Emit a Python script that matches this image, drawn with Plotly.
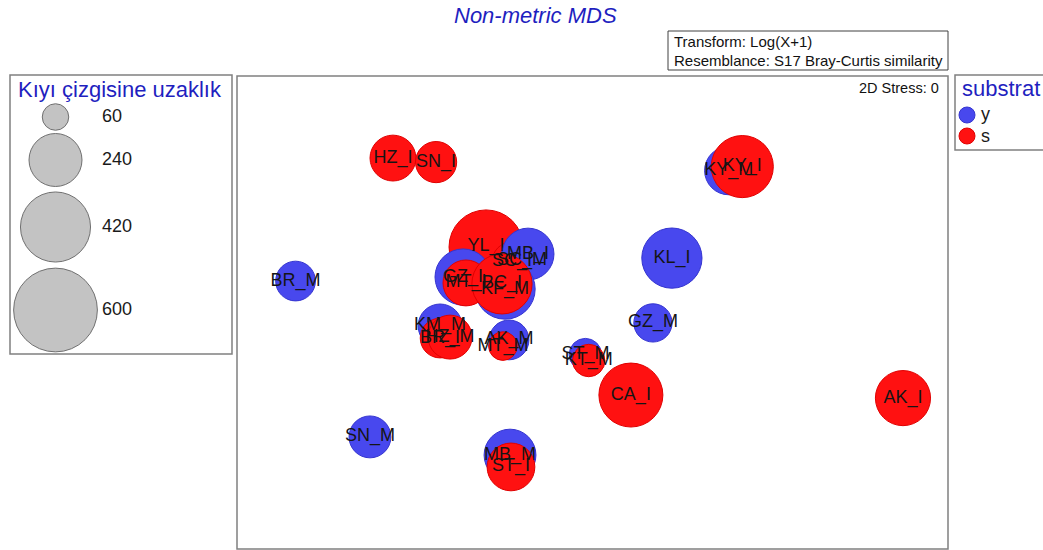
import numpy as np
import plotly.graph_objects as go

# ---- MDS ordination of the sampling stations ----
sites = ["HZ_I", "SN_I", "KY_M", "KY_I", "BR_M", "YL_I", "SC_I", "SC_M", "GZ_I",
         "MB_I", "KF_M", "MT_I", "BC_I", "KL_I", "GZ_M", "KM_M", "BR_I", "HZ_M",
         "AK_M", "MT_M", "ST_M", "KT_M", "CA_I", "AK_I", "SN_M", "MB_M", "ST_I"]
substrat = ["s", "s", "y", "s", "y", "s", "s", "y", "y",
            "y", "y", "s", "s", "y", "y", "y", "s", "s",
            "y", "s", "y", "s", "s", "s", "y", "y", "s"]
mds1 = [-0.842, -0.660, 0.575, 0.632, -1.253, -0.449, -0.340, -0.297, -0.546,
        -0.272, -0.369, -0.534, -0.382, 0.335, 0.255, -0.643, -0.643, -0.601,
        -0.352, -0.378, -0.030, -0.016, 0.162, 1.310, -0.939, -0.348, -0.344]
mds2 = [0.653, 0.636, 0.600, 0.617, 0.133, 0.277, 0.214, 0.222, 0.150,
        0.247, 0.099, 0.125, 0.121, 0.230, -0.044, -0.057, -0.108, -0.104,
        -0.116, -0.142, -0.178, -0.203, -0.349, -0.362, -0.526, -0.603, -0.653]
# Kıyı çizgisine uzaklık (distance to shoreline)
uzaklik = [180, 145, 200, 330, 135, 470, 135, 165, 270,
           230, 310, 180, 310, 310, 125, 165, 135, 165,
           135, 70, 90, 90, 350, 260, 150, 230, 195]

legend_sizes = [60, 240, 420, 600]
substrat_levels = ["y", "s"]

W, H = 1043, 550
FONT = "Liberation Sans, Arial, sans-serif"
BLUE_TXT = "#1f1fbf"
FILL = {"y": "#4848ee", "s": "#ff1111"}
EDGE = {"y": "#3535d0", "s": "#e00000"}
K = 3.42  # bubble diameter (px) per sqrt(unit)


def diam(v):
    return K * np.sqrt(v)


def fx(x):
    return x / W


def fy(y):
    return 1 - y / H


fig = go.Figure()

fig.add_trace(go.Scatter(
    x=mds1, y=mds2, mode="markers+text", text=sites,
    textposition="middle center",
    textfont=dict(family=FONT, size=18, color="#151515"),
    marker=dict(size=[diam(v) for v in uzaklik], sizemode="diameter",
                color=[FILL[s] for s in substrat], opacity=1,
                line=dict(width=1, color=[EDGE[s] for s in substrat])),
    showlegend=False, hoverinfo="text", cliponaxis=False,
))

# size legend (own axes inside the left box)
leg_y = [117, 160, 227, 310]
fig.add_trace(go.Scatter(
    x=[55.5] * len(legend_sizes), y=leg_y, mode="markers",
    marker=dict(size=[diam(v) for v in legend_sizes], sizemode="diameter",
                color="#c3c3c3", opacity=1, line=dict(width=1, color="#707070")),
    xaxis="x2", yaxis="y2", showlegend=False, hoverinfo="skip",
))
fig.add_trace(go.Scatter(
    x=[102] * len(legend_sizes), y=leg_y, mode="text",
    text=[str(v) for v in legend_sizes], textposition="middle right",
    textfont=dict(family=FONT, size=18, color="#1a1a1a"),
    xaxis="x2", yaxis="y2", showlegend=False, hoverinfo="skip",
))

ax_off = dict(showgrid=False, zeroline=False, showticklabels=False,
              showline=False, ticks="", fixedrange=True)
fig.update_layout(
    width=W, height=H, margin=dict(l=0, r=0, t=0, b=0),
    paper_bgcolor="white", plot_bgcolor="white",
    xaxis=dict(domain=[fx(237), fx(948)], range=[-1.5, 1.5], **ax_off),
    yaxis=dict(domain=[fy(549), fy(76)], range=[-1.0, 1.0], **ax_off),
    xaxis2=dict(domain=[fx(10), fx(232)], range=[10, 232], anchor="y2", **ax_off),
    yaxis2=dict(domain=[fy(354), fy(75)], range=[354, 75], anchor="x2", **ax_off),
)

shapes = [
    dict(type="rect", xref="paper", yref="paper", x0=fx(237), x1=fx(948),
         y0=fy(549), y1=fy(76), line=dict(color="#808080", width=1.5)),
    dict(type="rect", xref="paper", yref="paper", x0=fx(10), x1=fx(232),
         y0=fy(354), y1=fy(75), line=dict(color="#808080", width=1.5)),
    dict(type="rect", xref="paper", yref="paper", x0=fx(955), x1=fx(1060),
         y0=fy(150), y1=fy(75), line=dict(color="#808080", width=1.5)),
    dict(type="rect", xref="paper", yref="paper", x0=fx(668), x1=fx(948),
         y0=fy(70), y1=fy(31), line=dict(color="#404040", width=1)),
]
# substrat legend dots
for lvl, cy in zip(substrat_levels, [115, 136]):
    r = 8
    shapes.append(dict(type="circle", xref="paper", yref="paper",
                       x0=fx(967 - r), x1=fx(967 + r), y0=fy(cy + r), y1=fy(cy - r),
                       fillcolor=FILL[lvl], line=dict(color=EDGE[lvl], width=1)))
fig.update_layout(shapes=shapes)

ann = [
    dict(text="<i>Non-metric MDS</i>", x=fx(535), y=fy(16), size=22,
         color=BLUE_TXT, xanchor="center"),
    dict(text="Transform: Log(X+1)", x=fx(672), y=fy(41), size=15,
         color="#111111", xanchor="left"),
    dict(text="Resemblance: S17 Bray-Curtis similarity", x=fx(672), y=fy(60),
         size=15, color="#111111", xanchor="left"),
    dict(text="2D Stress: 0", x=fx(941), y=fy(88), size=14.5,
         color="#111111", xanchor="right"),
    dict(text="Kıyı çizgisine uzaklık", x=fx(120), y=fy(89), size=22,
         color=BLUE_TXT, xanchor="center"),
    dict(text="substrat", x=fx(960), y=fy(88), size=22,
         color=BLUE_TXT, xanchor="left"),
    dict(text="y", x=fx(979), y=fy(114), size=18, color="#1a1a1a", xanchor="left"),
    dict(text="s", x=fx(979), y=fy(136), size=18, color="#1a1a1a", xanchor="left"),
]
fig.update_layout(annotations=[
    dict(text=a["text"], x=a["x"], y=a["y"], xref="paper", yref="paper",
         xanchor=a["xanchor"], yanchor="middle", showarrow=False,
         font=dict(family=FONT, size=a["size"], color=a["color"]))
    for a in ann
])

fig.write_html("out.html")
